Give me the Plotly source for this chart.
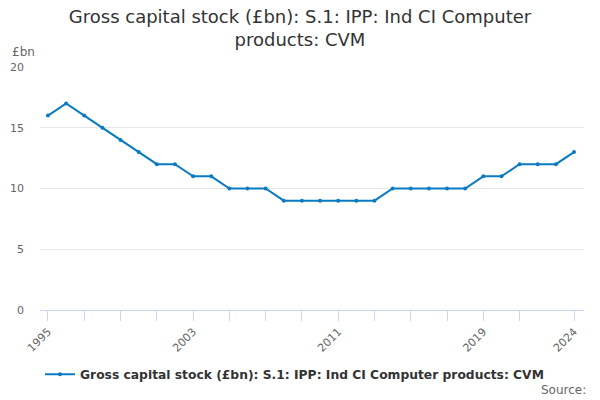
import plotly.graph_objects as go

years = list(range(1995, 2025))
values = [16, 17, 16, 15, 14, 13, 12, 12, 11, 11,
          10, 10, 10, 9, 9, 9, 9, 9, 9, 10,
          10, 10, 10, 10, 11, 11, 12, 12, 12, 13]

tick_years = list(range(1995, 2022, 2)) + [2024]
tick_labels = [str(y) if y in (1995, 2003, 2011, 2019, 2024) else "" for y in tick_years]

series_name = "Gross capital stock (£bn): S.1: IPP: Ind CI Computer products: CVM"

fig = go.Figure(go.Scatter(
    x=years, y=values, mode="lines+markers", name=series_name,
    line=dict(color="#0a7bc2", width=2),
    marker=dict(size=4, color="#0a7bc2"),
))

fig.update_layout(
    width=600, height=400,
    font=dict(family="DejaVu Sans", color="#666666", size=11),
    title=dict(text="Gross capital stock (£bn): S.1: IPP: Ind CI Computer<br>products: CVM",
               x=0.5, xanchor="center", y=0.943, yanchor="top",
               font=dict(size=18, color="#333333")),
    margin=dict(l=40, r=16, t=67, b=89),
    plot_bgcolor="white", paper_bgcolor="white",
    showlegend=True,
    legend=dict(orientation="h", x=0.0, xanchor="left", y=-0.2, yanchor="top",
                itemwidth=30,
                font=dict(size=12.3, color="#333333", weight="bold")),
    annotations=[
        dict(text="£bn", x=-30 / 544, y=(311 - 52) / 244, xref="paper", yref="paper",
             xanchor="left", yanchor="middle", showarrow=False, font=dict(size=12, color="#666666")),
        dict(text="Source:", x=(588 - 40) / 544, y=(311 - 391) / 244, xref="paper", yref="paper",
             xanchor="right", yanchor="middle", showarrow=False, font=dict(size=12, color="#666666")),
    ],
)

fig.update_xaxes(
    range=[1994.56, 2024.55], tickmode="array", tickvals=tick_years, ticktext=tick_labels,
    tickangle=-45, ticks="outside", ticklen=10, tickcolor="#ccd6eb",
    showline=True, linecolor="#ccd6eb", linewidth=1, showgrid=False, zeroline=False,
    tickfont=dict(size=11, color="#666666"), automargin=False,
)
fig.update_yaxes(
    range=[0, 20], tickvals=[0, 5, 10, 15, 20], showgrid=True, gridcolor="#e6e6e6",
    zeroline=False, showline=False, ticklabelstandoff=15, automargin=False,
    tickfont=dict(size=11, color="#666666"),
)

fig.write_html("out.html", config={"displayModeBar": False},
               post_script="document.body.style.margin='0';")
